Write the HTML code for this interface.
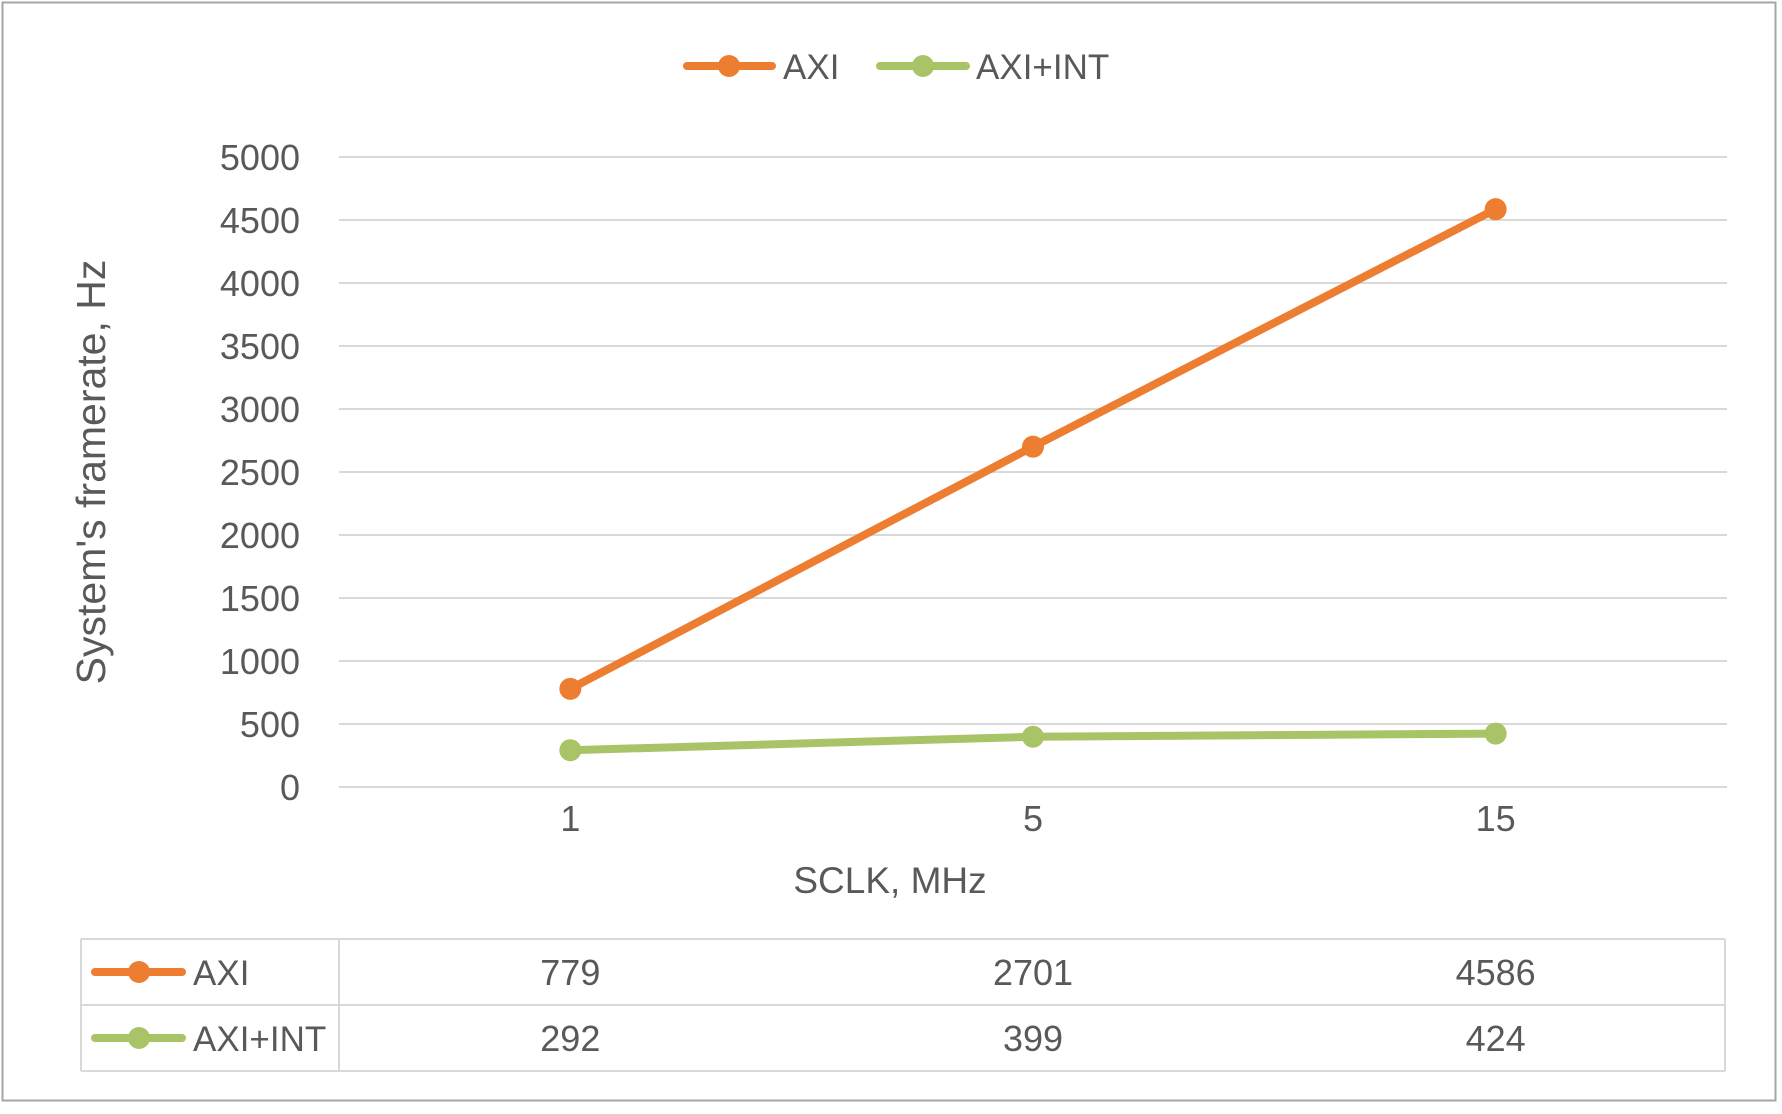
<!DOCTYPE html>
<html><head><meta charset="utf-8"><style>
html,body{margin:0;padding:0;background:#fff}
body{width:1782px;height:1109px;overflow:hidden;font-family:"Liberation Sans",sans-serif}
text{font-family:"Liberation Sans",sans-serif;fill:#595959}
</style></head><body>
<svg id="chart" width="1782" height="1109" viewBox="0 0 1782 1109" xmlns="http://www.w3.org/2000/svg">
<rect x="2.5" y="2.5" width="1773" height="1098" fill="#fff" stroke="#a6a6a6" stroke-width="2"/>
<g id="grid"></g><g id="yticks"></g><g id="xticks"></g><g id="series"></g><g id="table"></g>
<g>
 <g>
  <line x1="687" y1="66" x2="772" y2="66" stroke="#ED7D31" stroke-width="8" stroke-linecap="round"/>
  <circle cx="729" cy="66" r="11" fill="#ED7D31"/>
  <text x="783" y="79" font-size="35">AXI</text>
 </g>
 <g>
  <line x1="880" y1="66" x2="966" y2="66" stroke="#A9C467" stroke-width="8" stroke-linecap="round"/>
  <circle cx="923" cy="66" r="11" fill="#A9C467"/>
  <text x="976" y="79" font-size="35">AXI+INT</text>
 </g>
</g>
<text transform="translate(105,472) rotate(-90)" text-anchor="middle" font-size="41">System's framerate, Hz</text>
<text x="890" y="893" text-anchor="middle" font-size="37">SCLK, MHz</text>
</svg>
<script>
const categories = ["1","5","15"];
const seriesNames = ["AXI","AXI+INT"];
const axiValues = [779, 2701, 4586];
const axiIntValues = [292, 399, 424];
const yTicks = [0,500,1000,1500,2000,2500,3000,3500,4000,4500,5000];

const NS="http://www.w3.org/2000/svg";
const plotL=339, plotR=1727, yTop=157, yBot=787, yMax=5000;
const colW=(plotR-plotL)/categories.length;
const xScale=i=>plotL+colW*(i+0.5);
const yScale=v=>yBot-(v/yMax)*(yBot-yTop);
function mk(tag,attrs,parent,txt){const e=document.createElementNS(NS,tag);for(const k in attrs)e.setAttribute(k,attrs[k]);if(txt!==undefined)e.textContent=txt;parent.appendChild(e);return e;}
const grid=document.getElementById('grid'),yt=document.getElementById('yticks'),xt=document.getElementById('xticks'),ser=document.getElementById('series'),tbl=document.getElementById('table');
yTicks.forEach(t=>{
 const l=mk('line',{x1:plotL,x2:plotR,y1:yScale(t),y2:yScale(t),stroke:'#d9d9d9','stroke-width':2},grid);
 
 
 const tx=mk('text',{x:300,y:yScale(t)+13,'text-anchor':'end','font-size':36},yt,String(t));
 
 
});
categories.forEach((c,i)=>{
 const tx=mk('text',{x:xScale(i),y:831,'text-anchor':'middle','font-size':36},xt,c);
 
 
});
const all=[[axiValues,'#ED7D31','axi'],[axiIntValues,'#A9C467','axi-int']];
all.forEach(([vals,col,nm])=>{
 const g=mk('g',{},ser);
 
 
 const pl=mk('polyline',{points:vals.map((v,i)=>xScale(i)+','+yScale(v)).join(' '),fill:'none',stroke:col,'stroke-width':8,'stroke-linejoin':'round'},g);
 
 
 vals.forEach((v,i)=>{
  const c=mk('circle',{cx:xScale(i),cy:yScale(v),r:11,fill:col},g);
  
  
 });
});
const tL=81,tR=1725,tTop=939,tMid=1005,tBot=1071;
[[tL,tTop,tR,tTop],[tL,tMid,tR,tMid],[tL,tBot,tR,tBot],[tL,tTop,tL,tBot],[plotL,tTop,plotL,tBot],[tR,tTop,tR,tBot]].forEach(a=>{
 const l=mk('line',{x1:a[0],y1:a[1],x2:a[2],y2:a[3],stroke:'#d9d9d9','stroke-width':2},tbl);
 
 
});
all.forEach(([vals,col,nm],r)=>{
 const cy=r===0?972:1038;
 const g=mk('g',{},tbl);
 
 
 mk('line',{x1:95,x2:182,y1:cy,y2:cy,stroke:col,'stroke-width':8,'stroke-linecap':'round'},g);
 mk('circle',{cx:139,cy:cy,r:11,fill:col},g);
 mk('text',{x:193,y:cy+13,'font-size':35},g,seriesNames[r]);
 vals.forEach((v,i)=>{
  const t=mk('text',{x:xScale(i),y:cy+13,'text-anchor':'middle','font-size':36},g,String(v));
  
  
 });
});
</script>
</body></html>
